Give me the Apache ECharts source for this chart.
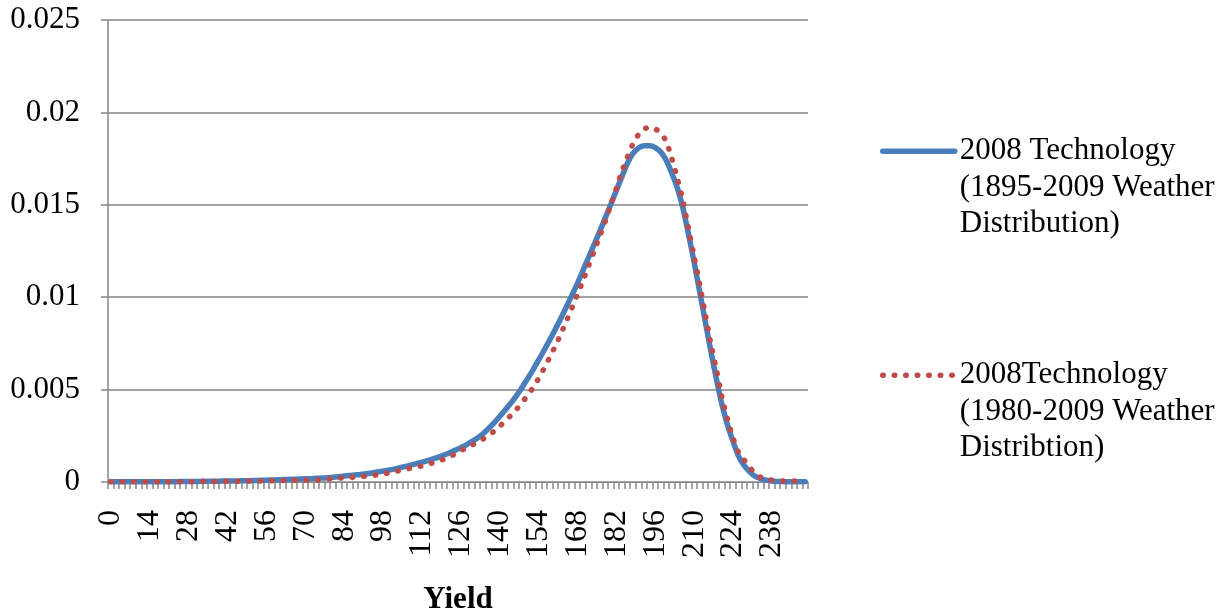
<!DOCTYPE html>
<html>
<head>
<meta charset="utf-8">
<script src="https://cdn.jsdelivr.net/npm/echarts@6/dist/echarts.min.js"></script>
<style>
html,body{margin:0;padding:0;background:#fff;}
#chart{width:1231px;height:612px;}
</style>
</head>
<body>
<div id="chart"></div>
<script>
// Yield categories 0..250 step 2
const yields = [0,2,4,6,8,10,12,14,16,18,20,22,24,26,28,30,32,34,36,38,40,42,44,46,48,50,52,54,56,58,60,62,64,66,68,70,72,74,76,78,80,82,84,86,88,90,92,94,96,98,100,102,104,106,108,110,112,114,116,118,120,122,124,126,128,130,132,134,136,138,140,142,144,146,148,150,152,154,156,158,160,162,164,166,168,170,172,174,176,178,180,182,184,186,188,190,192,194,196,198,200,202,204,206,208,210,212,214,216,218,220,222,224,226,228,230,232,234,236,238,240,242,244,246,248,250];

const seriesNames = [
  "2008 Technology\n(1895-2009 Weather\nDistribution)",
  "2008Technology\n(1980-2009 Weather\nDistribtion)"
];

// 2008 Technology (1895-2009 Weather Distribution)
const tech1895 = [
0.00001,0.00001,0.00001,0.00001,0.00001,0.00001,0.00001,0.00002,0.00002,0.00002,
0.00002,0.00002,0.00002,0.00003,0.00003,0.00003,0.00003,0.00004,0.00004,0.00004,
0.00005,0.00005,0.00006,0.00006,0.00007,0.00007,0.00008,0.00009,0.00010,0.00011,
0.00012,0.00013,0.00014,0.00015,0.00016,0.00017,0.00018,0.00020,0.00021,0.00023,
0.00026,0.00029,0.00032,0.00035,0.00038,0.00041,0.00045,0.00049,0.00054,0.00059,
0.00064,0.00070,0.00077,0.00084,0.00091,0.00099,0.00107,0.00116,0.00125,0.00135,
0.00146,0.00158,0.00172,0.00186,0.00201,0.00219,0.00238,0.00261,0.00290,0.00320,
0.00354,0.00390,0.00426,0.00466,0.00510,0.00558,0.00607,0.00659,0.00713,0.00768,
0.00825,0.00885,0.00947,0.01010,0.01075,0.01145,0.01215,0.01285,0.01355,0.01428,
0.01502,0.01577,0.01652,0.01725,0.01778,0.01808,0.01820,0.01820,0.01810,0.01785,
0.01740,0.01670,0.01590,0.01480,0.01340,0.01190,0.01030,0.00870,0.00710,0.00560,
0.00420,0.00310,0.00220,0.00140,0.00090,0.00055,0.00030,0.00018,0.00010,0.00005,
0.00003,0.00002,0.00001,0.00001,0.00001,0.00001
];

// 2008Technology (1980-2009 Weather Distribtion)
const tech1980 = [
0.00001,0.00001,0.00001,0.00001,0.00001,0.00001,0.00001,0.00001,0.00001,0.00001,
0.00002,0.00002,0.00002,0.00002,0.00002,0.00002,0.00002,0.00003,0.00003,0.00003,
0.00003,0.00004,0.00004,0.00004,0.00005,0.00005,0.00005,0.00006,0.00006,0.00007,
0.00007,0.00008,0.00008,0.00009,0.00009,0.00010,0.00011,0.00012,0.00014,0.00016,
0.00019,0.00021,0.00023,0.00025,0.00027,0.00029,0.00032,0.00035,0.00039,0.00044,
0.00049,0.00055,0.00062,0.00069,0.00075,0.00081,0.00087,0.00095,0.00104,0.00114,
0.00124,0.00137,0.00153,0.00169,0.00185,0.00200,0.00216,0.00232,0.00252,0.00275,
0.00301,0.00331,0.00360,0.00392,0.00428,0.00468,0.00510,0.00560,0.00615,0.00675,
0.00735,0.00800,0.00870,0.00940,0.01015,0.01090,0.01170,0.01250,0.01330,0.01410,
0.01500,0.01590,0.01680,0.01760,0.01830,0.01880,0.01910,0.01920,0.01910,0.01890,
0.01840,0.01750,0.01640,0.01520,0.01370,0.01220,0.01070,0.00910,0.00750,0.00610,
0.00460,0.00340,0.00240,0.00160,0.00120,0.00080,0.00045,0.00025,0.00014,0.00010,
0.00007,0.00006,0.00006,0.00005,0.00005,0.00005
];

const yTicks = [0, 0.005, 0.01, 0.015, 0.02, 0.025];
const xAxisTitle = "Yield";

const FONT = "'Liberation Serif', 'Times New Roman', serif";
const GRAY = '#868686';
const BLUE = '#4A7EBB';
const RED = '#BE4B48';

const chart = echarts.init(document.getElementById('chart'), null, {renderer: 'canvas'});

const legendCommon = {
  orient: 'vertical', left: 880, padding: 0,
  itemWidth: 72, itemHeight: 1,
  formatter: n => '\n\n' + n,
  textStyle: { fontFamily: FONT, fontSize: 31, color: '#000', lineHeight: 36.5 },
  itemStyle: { color: 'rgba(0,0,0,0)', borderWidth: 0, opacity: 0 },
  selectedMode: false
};

const option = {
  animation: false,
  backgroundColor: '#ffffff',
  grid: { left: 108, right: 423, top: 20, bottom: 130, containLabel: false, outerBoundsMode: 'none' },
  legend: [
    Object.assign({}, legendCommon, {
      data: [seriesNames[0]], top: 60,
      lineStyle: { width: 5.5, cap: 'round' }
    }),
    Object.assign({}, legendCommon, {
      data: [seriesNames[1]], top: 284,
      lineStyle: { width: 5.5, type: [0.5, 11], cap: 'round' }
    })
  ],
  xAxis: {
    type: 'category',
    data: yields.map(String),
    boundaryGap: true,
    name: xAxisTitle,
    nameLocation: 'middle',
    nameGap: 102,
    nameTextStyle: { fontFamily: FONT, fontSize: 31, fontWeight: 'bold', color: '#000' },
    axisLine: { lineStyle: { color: GRAY, width: 1 } },
    axisTick: { show: true, interval: 0, length: 7, lineStyle: { color: GRAY, width: 1.5 } },
    axisLabel: {
      interval: 6, rotate: 90, margin: 28,
      fontFamily: FONT, fontSize: 32, color: '#000'
    },
    splitLine: { show: false }
  },
  yAxis: {
    type: 'value',
    min: 0, max: 0.025, interval: 0.005,
    axisLine: { show: true, lineStyle: { color: GRAY, width: 1.5 } },
    axisTick: { show: true, length: 7, lineStyle: { color: GRAY, width: 1.5 } },
    axisLabel: {
      margin: 28, fontFamily: FONT, fontSize: 31, color: '#000',
      formatter: v => {
        let best = yTicks[0];
        yTicks.forEach(t => { if (Math.abs(t - v) < Math.abs(best - v)) best = t; });
        return String(best);
      }
    },
    splitLine: { show: true, lineStyle: { color: GRAY, width: 1.5 } }
  },
  series: [
    {
      name: seriesNames[0],
      type: 'line',
      data: tech1895,
      smooth: 0.3,
      symbol: 'none',
      showSymbol: false,
      color: BLUE,
      lineStyle: { color: BLUE, width: 5.5, cap: 'round', join: 'round' },
      z: 2
    },
    {
      name: seriesNames[1],
      type: 'line',
      data: tech1980,
      smooth: 0.3,
      symbol: 'none',
      showSymbol: false,
      color: RED,
      lineStyle: { color: RED, width: 5.5, type: [0.5, 11], cap: 'round' },
      z: 3
    }
  ]
};
chart.setOption(option);
</script>
</body>
</html>
